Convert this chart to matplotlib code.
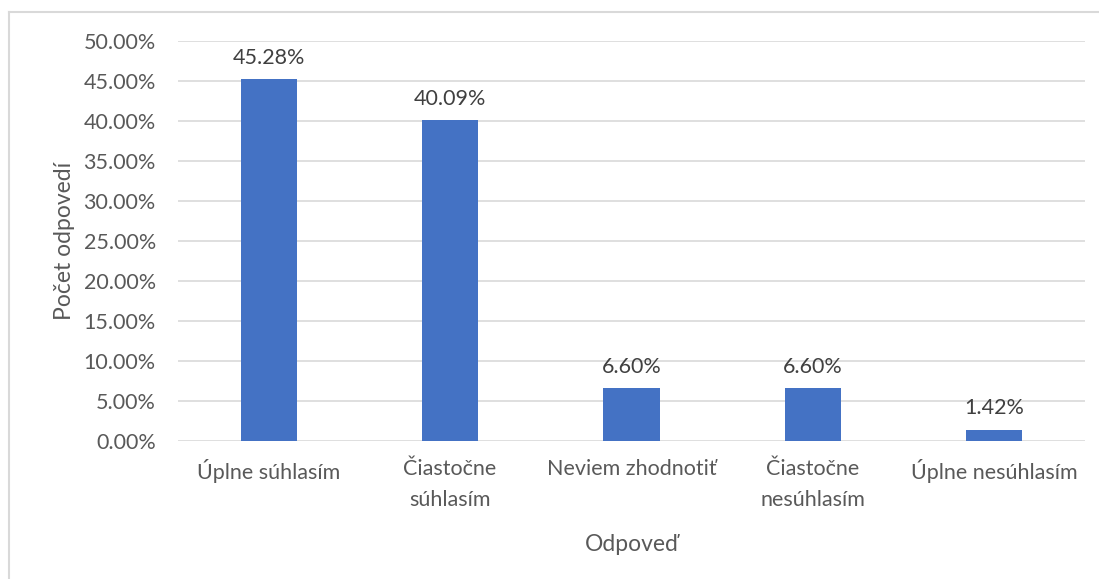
import matplotlib.pyplot as plt
from matplotlib.lines import Line2D
from matplotlib.ticker import FuncFormatter

categories = ['Úplne súhlasím', 'Čiastočne\nsúhlasím', 'Neviem zhodnotiť',
              'Čiastočne\nnesúhlasím', 'Úplne nesúhlasím']
values = [45.28, 40.09, 6.60, 6.60, 1.42]
y_ticks = [0, 5, 10, 15, 20, 25, 30, 35, 40, 45, 50]

TEXT = '#595959'
GRID = '#d9d9d9'
BAR = '#4472c4'

plt.rcParams['font.family'] = ['Lato', 'DejaVu Sans']

W, H = 1099, 579
fig = plt.figure(figsize=(W / 100, H / 100), dpi=100)
ax = fig.add_axes([178 / W, 1 - 441 / H, (1085 - 178) / W, 400 / H])

x = range(len(categories))
ax.bar(x, values, width=0.31, color=BAR, zorder=3)
for xi, v in zip(x, values):
    ax.text(xi, v + 1.4, f'{v:.2f}%', ha='center', va='bottom',
            fontsize=15.5, color='#404040')

ax.set_xlim(-0.5, len(categories) - 0.5)
ax.set_ylim(0, 50)
ax.set_yticks(y_ticks)
ax.yaxis.set_major_formatter(FuncFormatter(lambda v, p: f'{v:.2f}%'))
ax.set_xticks(list(x))
ax.set_xticklabels(categories, linespacing=1.7)
ax.grid(axis='y', color=GRID, linewidth=1.2, zorder=0)
for s in ax.spines.values():
    s.set_visible(False)
ax.tick_params(length=0, labelsize=15.5, colors=TEXT)
ax.tick_params(axis='x', pad=13)
ax.tick_params(axis='y', pad=16)

ax.set_ylabel('Počet odpovedí', fontsize=16.5, color=TEXT, labelpad=6)
ax.set_xlabel('Odpoveď', fontsize=16.5, color=TEXT, labelpad=17)

# chart area border (left and top visible)
fig.add_artist(Line2D([9 / W, 9 / W], [0, 1 - 12 / H], color=GRID, linewidth=1.5))
fig.add_artist(Line2D([9 / W, 1], [1 - 12 / H, 1 - 12 / H], color=GRID, linewidth=1.5))

fig.savefig('out.png', dpi=100)
